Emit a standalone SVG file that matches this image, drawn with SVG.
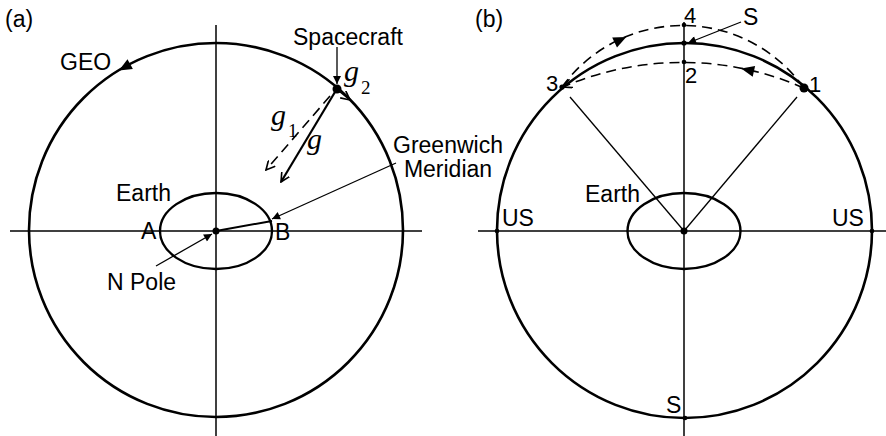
<svg xmlns="http://www.w3.org/2000/svg" width="886" height="436" viewBox="0 0 886 436">
<style>
.orbit{fill:none;stroke:#000;stroke-width:2.6}
.earth{fill:none;stroke:#000;stroke-width:2.4}
.axis{fill:none;stroke:#000;stroke-width:1.5}
.thin{fill:none;stroke:#000;stroke-width:1.3}
.dash{fill:none;stroke:#000;stroke-width:1.6;stroke-dasharray:10 6}
.lbl{font-family:"Liberation Sans",Arial,sans-serif;font-size:23px;fill:#000}
.num{font-family:"Liberation Sans",Arial,sans-serif;font-size:22px;fill:#000}
.gl{font-family:"Liberation Serif","Times New Roman",serif;font-style:italic;font-size:30px;fill:#000}
.gs{font-family:"Liberation Serif","Times New Roman",serif;font-size:19px;fill:#000}
</style>
<defs>
<marker id="ah" viewBox="0 0 10 10" refX="10" refY="5" markerWidth="10" markerHeight="8" markerUnits="userSpaceOnUse" orient="auto">
<path d="M0,0 L10,5 L0,10 Z" fill="#000"/>
</marker>
<marker id="av" viewBox="0 0 10 10" refX="9" refY="5" markerWidth="10" markerHeight="10" markerUnits="userSpaceOnUse" orient="auto">
<path d="M0,0.5 L9,5 L0,9.5" fill="none" stroke="#000" stroke-width="1.6"/>
</marker>
</defs>

<g id="panel-a">
<text class="lbl" x="5" y="27">(a)</text>
<g id="axes-a">
<line class="axis" x1="10" y1="231" x2="422" y2="231"/>
<line class="axis" x1="216" y1="25" x2="216" y2="436"/>
</g>
<g id="geo-a">
<circle class="orbit" cx="216" cy="230" r="187"/>
<polygon points="118.9,70.4 132.9,68.9 127.5,59.3" fill="#000"/>
<text class="lbl" x="60" y="70">GEO</text>
</g>
<g id="earth-a">
<ellipse class="earth" cx="216" cy="231" rx="56" ry="38"/>
<text class="lbl" x="116" y="201">Earth</text>
<text class="lbl" x="141" y="239">A</text>
<text class="lbl" x="275" y="240">B</text>
</g>
<g id="npole">
<circle cx="216" cy="231" r="3.5" fill="#000"/>
<text class="lbl" x="107" y="290">N Pole</text>
</g>
<g id="spacecraft">
<circle cx="337" cy="89" r="4.5" fill="#000"/>
<text class="lbl" x="293" y="45">Spacecraft</text>
<text class="gl" x="344" y="81">g</text><text class="gs" x="361" y="94">2</text>
<text class="gl" x="271" y="125">g</text><text class="gs" x="288" y="137">1</text>
<text class="gl" x="307" y="149">g</text>
</g>
<g id="greenwich">
<text class="lbl" x="448" y="153" text-anchor="middle">Greenwich</text>
<text class="lbl" x="448" y="177" text-anchor="middle">Meridian</text>
</g>
</g>

<g id="panel-b">
<text class="lbl" x="475" y="27">(b)</text>
<g id="axes-b">
<line class="axis" x1="478" y1="231" x2="886" y2="231"/>
<line class="axis" x1="684" y1="22" x2="684" y2="436"/>
</g>
<g id="geo-b">
<circle class="orbit" cx="684.5" cy="230.5" r="187.5"/>
</g>
<g id="earth-b">
<ellipse class="earth" cx="684" cy="231" rx="56.5" ry="38"/>
<circle cx="684" cy="231" r="3.5" fill="#000"/>
<text class="lbl" x="585" y="202">Earth</text>
</g>
<g id="pts-b">
<circle cx="684" cy="25" r="2.3" fill="#000"/>
<circle cx="684" cy="43" r="2.6" fill="#000"/>
<circle cx="684" cy="62" r="2.3" fill="#000"/>
<circle cx="562" cy="87" r="2.6" fill="#000"/>
<circle cx="804" cy="88" r="4.5" fill="#000"/>
<circle cx="497" cy="231" r="2.3" fill="#000"/>
<circle cx="872" cy="231" r="2.3" fill="#000"/>
<circle cx="685" cy="418" r="2.3" fill="#000"/>
<text class="num" x="684" y="23">4</text>
<text class="lbl" x="743" y="25">S</text>
<text class="num" x="685" y="83">2</text>
<text class="num" x="546" y="91">3</text>
<text class="num" x="809" y="92">1</text>
<text class="lbl" x="502" y="226">US</text>
<text class="lbl" x="832" y="226">US</text>
<text class="lbl" x="666" y="413">S</text>
</g>
<g id="paths-b">
<path class="dash" d="M562,87 A149,149 0 0 1 804,88"/>
<path class="dash" d="M804,88 A302,302 0 0 0 563,87" marker-end="url(#av)"/>
<polygon points="626.3,37.0 617.0,47.5 612.2,37.6" fill="#000"/>
<polygon points="741.2,68.5 755.1,65.9 752.7,76.7" fill="#000"/>
</g>
</g>

<g id="connectors">
<line class="thin" x1="396" y1="163" x2="272" y2="219" marker-end="url(#ah)"/>
<line class="thin" x1="156" y1="266" x2="212" y2="234" marker-end="url(#ah)"/>
<line stroke="#000" stroke-width="2" x1="216" y1="231" x2="272" y2="221"/>
<line class="thin" x1="337" y1="47" x2="337" y2="84" marker-end="url(#ah)"/>
<line stroke="#000" stroke-width="2.2" x1="335" y1="92" x2="281" y2="182" marker-end="url(#av)"/>
<line class="dash" stroke-dasharray="7 4" x1="330" y1="96" x2="266" y2="170" marker-end="url(#av)"/>
<line class="thin" x1="340" y1="92" x2="350" y2="100" marker-end="url(#av)"/>
<line class="thin" x1="741" y1="22" x2="688" y2="43" marker-end="url(#ah)"/>
<line class="thin" x1="684" y1="231" x2="570" y2="97"/>
<line class="thin" x1="684" y1="231" x2="797" y2="97"/>
</g>
</svg>
